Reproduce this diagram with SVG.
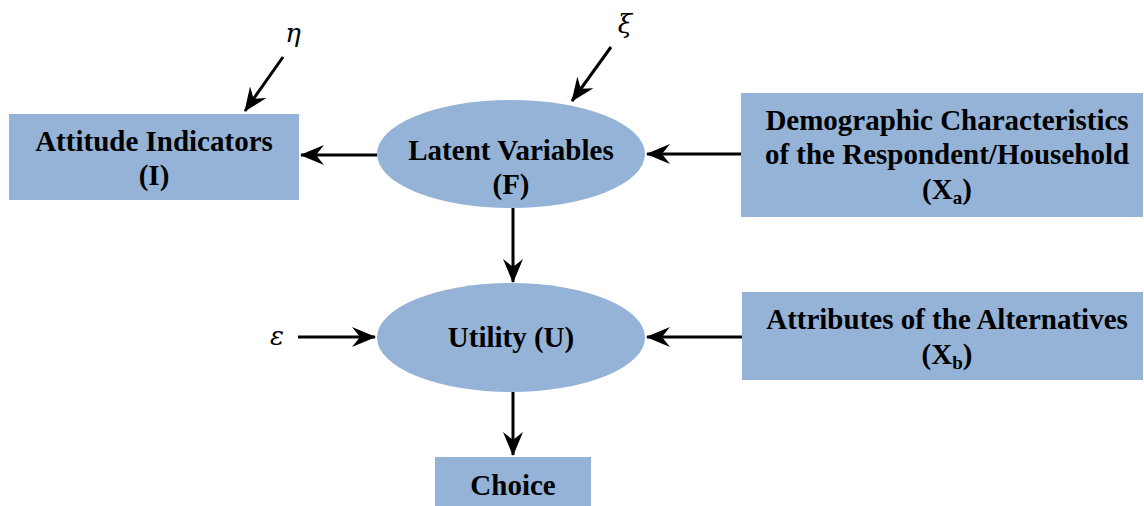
<svg xmlns="http://www.w3.org/2000/svg" width="1144" height="506" viewBox="0 0 1144 506">
<style>
.box{fill:#95B3D7}
.t{font-family:"Liberation Serif","Times New Roman",serif;font-weight:bold;font-size:29px;fill:#000;text-anchor:middle}
.g{font-family:"DejaVu Serif","Liberation Serif",serif;font-style:italic;font-size:26px;fill:#000;text-anchor:middle}
.c{stroke:#000;stroke-width:3;fill:none;marker-end:url(#ah)}
</style>
<defs>
<marker id="ah" viewBox="0 0 12 10" refX="11.5" refY="5" markerWidth="8" markerHeight="6.7" orient="auto" markerUnits="strokeWidth">
<path d="M0,0 L12,5 L0,10 L4,5 Z" fill="#000"/>
</marker>
</defs>
<rect width="1144" height="506" fill="#fff"/>
<g id="connectors">
<path class="c" d="M283,57 L245,111"/>
<path class="c" d="M611,47 L572,101"/>
<path class="c" d="M377,155 L301,155"/>
<path class="c" d="M741,154 L647,154"/>
<path class="c" d="M513,208 L513,282"/>
<path class="c" d="M298,337 L375,337"/>
<path class="c" d="M742,337 L647,337"/>
<path class="c" d="M513,392 L513,455"/>
</g>
<g id="eta"><text class="g" x="293" y="42">η</text></g>
<g id="xi"><text class="g" x="625" y="33">ξ</text></g>
<g id="epsilon"><text class="g" x="277" y="345">ε</text></g>
<g id="attitude">
<rect class="box" x="9" y="114" width="290" height="86"/>
<text class="t" x="154" y="151">Attitude Indicators</text>
<text class="t" x="154" y="185">(I)</text>
</g>
<g id="latent">
<ellipse class="box" cx="511" cy="154" rx="134" ry="54"/>
<text class="t" x="511" y="160">Latent Variables</text>
<text class="t" x="511" y="194">(F)</text>
</g>
<g id="demographic">
<rect class="box" x="741" y="93" width="402" height="124"/>
<text class="t" x="947" y="130">Demographic Characteristics</text>
<text class="t" x="947" y="164">of the Respondent/Household</text>
<text class="t" x="947" y="199">(X<tspan font-size="19" dy="5">a</tspan><tspan dy="-5">)</tspan></text>
</g>
<g id="utility">
<ellipse class="box" cx="511" cy="337.5" rx="134" ry="54.5"/>
<text class="t" x="511" y="347">Utility (U)</text>
</g>
<g id="attributes">
<rect class="box" x="742" y="292" width="401" height="88"/>
<text class="t" x="947" y="329">Attributes of the Alternatives</text>
<text class="t" x="947" y="364">(X<tspan font-size="19" dy="5">b</tspan><tspan dy="-5">)</tspan></text>
</g>
<g id="choice">
<rect class="box" x="435" y="457" width="156" height="49"/>
<text class="t" x="513" y="495">Choice</text>
</g>
</svg>
